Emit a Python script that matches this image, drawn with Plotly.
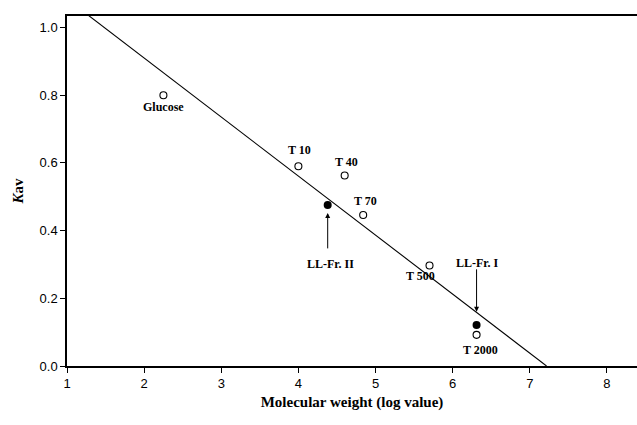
import plotly.graph_objects as go

# Standards (open circles)
std_names = ["Glucose", "T 10", "T 40", "T 70", "T 500", "T 2000"]
std_logmw = [2.25, 4.00, 4.60, 4.84, 5.70, 6.31]
std_kav = [0.80, 0.59, 0.563, 0.446, 0.297, 0.092]

# Label positions for standards
std_label_x = [2.25, 4.01, 4.62, 4.87, 5.58, 6.36]
std_label_y = [0.765, 0.638, 0.604, 0.487, 0.267, 0.047]

# Sample fractions (filled circles)
frac_names = ["LL-Fr. II", "LL-Fr. I"]
frac_logmw = [4.38, 6.31]
frac_kav = [0.476, 0.121]
frac_label_x = [4.42, 6.32]
frac_label_y = [0.301, 0.303]
arrow_tip_y = [0.452, 0.160]
arrow_tail_y = [0.343, 0.290]

# Regression line: Kav = intercept + slope * logMW
slope = -0.1744
intercept = 1.2587
line_x = [1.0, 7.217]
line_y = [intercept + slope * x for x in line_x]

fig = go.Figure()
fig.add_trace(go.Scatter(x=line_x, y=line_y, mode="lines",
                         line=dict(color="black", width=1.1), showlegend=False))
fig.add_trace(go.Scatter(x=std_logmw, y=std_kav, mode="markers",
                         marker=dict(symbol="circle-open", size=7, color="black",
                                     line=dict(width=1.1, color="black")),
                         showlegend=False))
fig.add_trace(go.Scatter(x=frac_logmw, y=frac_kav, mode="markers",
                         marker=dict(symbol="circle", size=8, color="black"),
                         showlegend=False))

lab_font = dict(family="Liberation Serif", size=12, color="black")
for n, x, y in zip(std_names, std_label_x, std_label_y):
    fig.add_annotation(x=x, y=y, text="<b>%s</b>" % n, showarrow=False, font=lab_font)
for n, x, y in zip(frac_names, frac_label_x, frac_label_y):
    fig.add_annotation(x=x, y=y, text="<b>%s</b>" % n, showarrow=False, font=lab_font)
for x, yt, ya in zip(frac_logmw, arrow_tip_y, arrow_tail_y):
    fig.add_annotation(x=x, y=yt, ax=x, ay=ya, xref="x", yref="y", axref="x", ayref="y",
                       text="", showarrow=True, arrowhead=2, arrowsize=1,
                       arrowwidth=1, arrowcolor="black")

tick_font = dict(family="Liberation Sans", size=13, color="black")
fig.update_layout(
    width=637, height=425,
    margin=dict(l=67, r=0, t=16, b=59),
    plot_bgcolor="white", paper_bgcolor="white",
    xaxis=dict(range=[1, 8.39], tickvals=[1, 2, 3, 4, 5, 6, 7, 8],
               showgrid=False, zeroline=False, showline=True, linecolor="black",
               linewidth=1.5, mirror=True, ticks="outside", ticklen=5,
               tickcolor="black", tickfont=tick_font,
               title=dict(text="<b>Molecular weight (log value)</b>",
                          font=dict(family="Liberation Serif", size=15, color="black"),
                          standoff=6)),
    yaxis=dict(range=[0, 1.034], tickvals=[0, 0.2, 0.4, 0.6, 0.8, 1.0],
               tickformat=".1f",
               showgrid=False, zeroline=False, showline=True, linecolor="black",
               linewidth=1.5, ticks="outside", ticklen=5, tickcolor="black",
               tickfont=tick_font,
               title=dict(text="<b><i>K</i>av</b>",
                          font=dict(family="Liberation Serif", size=15, color="black"),
                          standoff=12)),
)
fig.write_html("out.html")
